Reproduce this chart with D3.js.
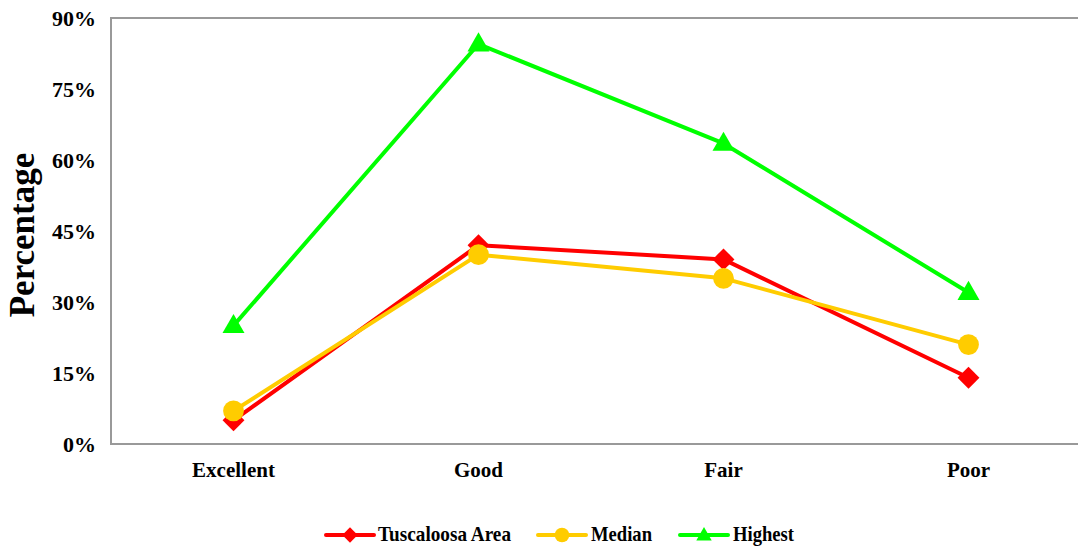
<!DOCTYPE html>
<html>
<head>
<meta charset="utf-8">
<script src="https://cdn.jsdelivr.net/npm/d3@7"></script>
<style>
  html, body { margin: 0; padding: 0; background: #fff; }
  svg { display: block; font-family: "Liberation Serif", "Times New Roman", serif; font-weight: bold; }
</style>
</head>
<body>
<svg id="chart" width="1078" height="549"></svg>
<script>
// Self-rated condition shares by category
const categories = ["Excellent", "Good", "Fair", "Poor"];
const tuscaloosa = [5, 42, 39, 14];
const median = [7, 40, 35, 21];
const highest = [25, 84.5, 63.5, 32];
const yTicks = [0, 15, 30, 45, 60, 75, 90];
const seriesNames = ["Tuscaloosa Area", "Median", "Highest"];

const seriesList = [
  { name: seriesNames[0], values: tuscaloosa, color: "#FF0000", shape: "diamond" },
  { name: seriesNames[1], values: median, color: "#FFCC00", shape: "circle" },
  { name: seriesNames[2], values: highest, color: "#00FF00", shape: "triangle" }
];

const svg = d3.select("#chart");
const plotLeft = 111, plotTop = 18, plotBottom = 444, plotRight = 1091;

const x = d3.scaleBand().domain(categories).range([plotLeft, plotRight]);
const y = d3.scaleLinear().domain([0, 90]).range([plotBottom, plotTop]);

// Frame: left, top and bottom edges in gray
const frameColor = "#999999";
svg.append("line").attr("x1", plotLeft).attr("x2", 1078).attr("y1", plotTop).attr("y2", plotTop)
  .attr("stroke", frameColor).attr("stroke-width", 2);
svg.append("line").attr("x1", plotLeft).attr("x2", 1078).attr("y1", plotBottom).attr("y2", plotBottom)
  .attr("stroke", frameColor).attr("stroke-width", 2);
svg.append("line").attr("x1", plotLeft).attr("x2", plotLeft).attr("y1", plotTop - 1).attr("y2", plotBottom + 1)
  .attr("stroke", frameColor).attr("stroke-width", 2);

// Y axis tick labels
const yAxis = d3.axisLeft(y).tickValues(yTicks).tickFormat(d => d + "%").tickSize(0).tickPadding(15);
const yg = svg.append("g").attr("transform", `translate(${plotLeft},0)`).call(yAxis);
yg.select(".domain").remove();
yg.selectAll("text").attr("font-family", "Liberation Serif, serif").attr("font-weight", "bold")
  .attr("font-size", 22).attr("fill", "#000").attr("dy", "0.34em");

// X axis category labels
const xAxis = d3.axisBottom(x).tickSize(0).tickPadding(18);
const xg = svg.append("g").attr("transform", `translate(0,${plotBottom})`).call(xAxis);
xg.select(".domain").remove();
xg.selectAll("text").attr("font-family", "Liberation Serif, serif").attr("font-weight", "bold")
  .attr("font-size", 21).attr("fill", "#000");

// Y axis title
svg.append("text").attr("transform", "translate(34,235) rotate(-90)")
  .attr("text-anchor", "middle").attr("font-size", 35).attr("fill", "#000").text("Percentage");

const markerSize = { diamond: 240, circle: 340, triangle: 210 };
const symbolType = { diamond: d3.symbolSquare, circle: d3.symbolCircle, triangle: d3.symbolTriangle };
function drawMarker(g, shape, cx, cy, color, scale = 1) {
  const path = d3.symbol().type(symbolType[shape]).size(markerSize[shape] * scale * scale)();
  g.append("path").attr("d", path)
    .attr("transform", `translate(${cx},${cy})` + (shape === "diamond" ? " rotate(45)" : shape === "triangle" ? " translate(0,1)" : ""))
    .attr("fill", color);
}

const line = d3.line()
  .x((d, i) => x(categories[i]) + x.bandwidth() / 2)
  .y(d => y(d));

seriesList.forEach(s => {
  const g = svg.append("g");
  g.append("path").attr("d", line(s.values)).attr("fill", "none")
    .attr("stroke", s.color).attr("stroke-width", 4).attr("stroke-linejoin", "round");
  s.values.forEach((v, i) => drawMarker(g, s.shape, x(categories[i]) + x.bandwidth() / 2, y(v), s.color));
});

// Legend
const legendItems = [
  { x0: 326, textX: 378, w: 133 },
  { x0: 538, textX: 591, w: 61 },
  { x0: 680, textX: 733, w: 61 }
];
const ly = 535;
seriesList.forEach((s, i) => {
  const L = legendItems[i];
  const g = svg.append("g");
  g.append("line").attr("x1", L.x0).attr("x2", L.x0 + 48).attr("y1", ly).attr("y2", ly)
    .attr("stroke", s.color).attr("stroke-width", 4).attr("stroke-linecap", "round");
  drawMarker(g, s.shape, L.x0 + 24, ly, s.color, 0.7);
  g.append("text").attr("x", L.textX).attr("y", 541)
    .attr("font-size", 21).attr("fill", "#000")
    .attr("textLength", L.w).attr("lengthAdjust", "spacingAndGlyphs")
    .text(s.name);
});
</script>
</body>
</html>
